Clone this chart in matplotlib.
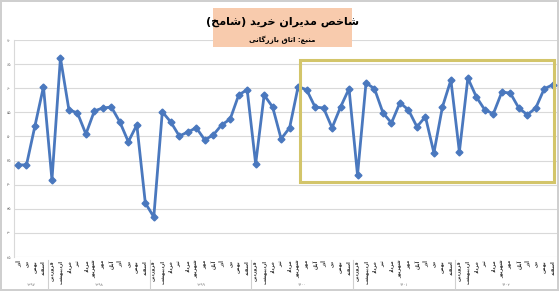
import matplotlib
matplotlib.use("Agg")
import matplotlib.pyplot as plt
from matplotlib.patches import Rectangle

# shamekh values, azar 1397 .. esfand 1402
values = [44.1, 44.1, 52.2, 60.3,
          41.0, 66.3, 55.5, 54.9, 50.5, 55.3, 55.9, 56.1, 53.0, 48.9, 52.4, 36.2,
          33.3, 55.1, 53.0, 50.1, 50.9, 51.8, 49.3, 50.3, 52.4, 53.6, 58.6, 59.7,
          44.3, 58.6, 56.1, 49.5, 51.8, 60.3, 59.7, 56.1, 55.9, 51.8, 56.1, 59.9,
          42.0, 61.1, 59.9, 54.9, 52.8, 57.0, 55.5, 52.0, 54.1, 46.6, 56.1, 61.7,
          46.8, 62.1, 58.2, 55.5, 54.7, 59.2, 59.0, 55.9, 54.5, 55.9, 59.9, 60.7]
months = ["فروردین", "اردیبهشت", "خرداد", "تیر", "مرداد", "شهریور",
          "مهر", "آبان", "آذر", "دی", "بهمن", "اسفند"]
years = ["۱۳۹۷", "۱۳۹۸", "۱۳۹۹", "۱۴۰۰", "۱۴۰۱", "۱۴۰۲"]
year_len = [4, 12, 12, 12, 12, 12]
yticks = [25, 30, 35, 40, 45, 50, 55, 60, 65, 70]
title = "شاخص مدیران خرید (شامخ)"
subtitle = "منبع: اتاق بازرگانی"

# simple persian shaping: isolated, final, initial, medial
forms = {
    "ا": "\ufe8d\ufe8e", "آ": "\ufe81\ufe82", "د": "\ufea9\ufeaa", "ذ": "\ufeab\ufeac",
    "ر": "\ufead\ufeae", "ز": "\ufeaf\ufeb0", "و": "\ufeed\ufeee",
    "ب": "\ufe8f\ufe90\ufe91\ufe92", "ت": "\ufe95\ufe96\ufe97\ufe98",
    "خ": "\ufea5\ufea6\ufea7\ufea8", "س": "\ufeb1\ufeb2\ufeb3\ufeb4",
    "ش": "\ufeb5\ufeb6\ufeb7\ufeb8", "ص": "\ufeb9\ufeba\ufebb\ufebc",
    "ع": "\ufec9\ufeca\ufecb\ufecc", "ف": "\ufed1\ufed2\ufed3\ufed4",
    "ق": "\ufed5\ufed6\ufed7\ufed8", "م": "\ufee1\ufee2\ufee3\ufee4",
    "ن": "\ufee5\ufee6\ufee7\ufee8", "ه": "\ufee9\ufeea\ufeeb\ufeec",
    "ی": "\ufbfc\ufbfd\ufbfe\ufbff", "گ": "\ufb92\ufb93\ufb94\ufb95",
}


def fa(s):
    out = []
    for i, c in enumerate(s):
        if c not in forms:
            out.append(c)
            continue
        f = forms[c]
        prev = s[i - 1] if i > 0 else ""
        nxt = s[i + 1] if i + 1 < len(s) else ""
        joined_before = prev in forms and len(forms[prev]) == 4
        joins_after = len(f) == 4 and nxt in forms
        if joined_before and joins_after:
            out.append(f[3])
        elif joined_before:
            out.append(f[1])
        elif joins_after:
            out.append(f[2])
        else:
            out.append(f[0])
    vis = "".join(out)[::-1]
    return vis.replace("(", "\0").replace(")", "(").replace("\0", ")")


labels = []
for k, n in enumerate(year_len):
    labels += months[12 - n:] if k == 0 else months[:n]

plt.rcParams["font.family"] = ["DejaVu Sans"]
fig = plt.figure(figsize=(5.59, 2.91), dpi=100)
fig.patch.set_edgecolor("#cfcfcf")
fig.patch.set_linewidth(1.5)
ax = fig.add_axes([0.0246, 0.1168, 0.9718, 0.7457])

x = list(range(len(values)))
ax.plot(x, values, color="#4a78be", lw=2, marker="D", ms=3.5, zorder=3)

ax.set_xlim(-0.5, len(values) - 0.5)
ax.set_ylim(yticks[0], yticks[-1])
ax.set_yticks(yticks)
ax.set_yticklabels(["".join("۰۱۲۳۴۵۶۷۸۹"[int(d)] for d in str(v)) for v in yticks],
                   fontsize=3, color="#666666")
ax.set_xticks(x)
ax.set_xticklabels([fa(m) for m in labels], rotation=90, fontsize=3.5,
                   color="#333333", fontweight="bold")
ax.tick_params(length=0, pad=2)
ax.grid(axis="y", color="#d9d9d9", lw=0.8)
ax.set_axisbelow(True)
for s in ["top", "right", "bottom"]:
    ax.spines[s].set_visible(False)
ax.spines["left"].set_color("#d9d9d9")

# year separators and year labels
start = -0.5
for k, n in enumerate(year_len):
    if k > 0:
        ax.plot([start, start], [-0.015, -0.16], transform=ax.get_xaxis_transform(),
                color="#d0d0d0", lw=0.8, clip_on=False)
    ax.text(start + n / 2, -0.13, years[k], transform=ax.get_xaxis_transform(),
            ha="center", va="center", fontsize=3, color="#777777")
    start += n

# highlight box
ax.add_patch(Rectangle((33.2, 40.6), 30.0, 25.3, fill=False,
                       edgecolor="#d3c56a", lw=2.2, zorder=4))

# title box
fig.patches.append(Rectangle((0.381, 0.838), 0.249, 0.135, transform=fig.transFigure,
                             facecolor="#f8cbad", edgecolor="none", zorder=5))
fig.text(0.505, 0.924, fa(title), ha="center", va="center", fontsize=8,
         fontweight="bold", zorder=6)
fig.text(0.505, 0.862, fa(subtitle), ha="center", va="center", fontsize=5,
         fontweight="bold", zorder=6)

fig.savefig("out.png", dpi=100)
